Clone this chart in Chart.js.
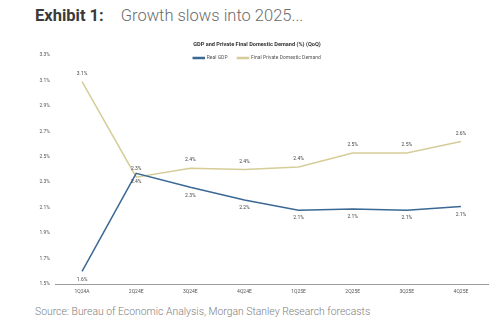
<!DOCTYPE html>
<html>
<head>
<meta charset="utf-8">
<script src="https://cdn.jsdelivr.net/npm/chart.js@4/dist/chart.umd.min.js"></script>
<style>
  html, body { margin: 0; padding: 0; background: #fff; }
  body { width: 500px; height: 329px; position: relative; overflow: hidden; font-family: Roboto, "Noto Sans", sans-serif; }
  #exhibit { position: absolute; left: 35px; top: 6px; font-size: 16.5px; white-space: nowrap; }
  #exhibit b { color: #3a3a3a; font-weight: 700; margin-right: 17px; }
  #exhibit span { color: #6b6b6b; font-weight: 300; }
  #wrap { position: absolute; left: 0; top: 34px; width: 500px; height: 266px; }
  #source { position: absolute; left: 35px; top: 305px; font-size: 10.4px; color: #808080; font-weight: 300; white-space: nowrap; }
</style>
</head>
<body>
<div id="exhibit"><b>Exhibit 1:</b><span>Growth slows into 2025...</span></div>
<div id="wrap"><canvas id="gdpChart"></canvas></div>
<div id="source">Source: Bureau of Economic Analysis, Morgan Stanley Research forecasts</div>

<script>
// quarters and QoQ % values
const quarters = ["1Q24A", "2Q24E", "3Q24E", "4Q24E", "1Q25E", "2Q25E", "3Q25E", "4Q25E"];
const realGdp = [1.60, 2.37, 2.26, 2.16, 2.08, 2.09, 2.08, 2.11];
const finalDemand = [3.09, 2.34, 2.41, 2.40, 2.42, 2.53, 2.53, 2.62];

const BLUE = "#3b6894";
const KHAKI = "#d6cc98";

// value labels: GDP below the point, final demand above
const pointLabels = {
  id: "pointLabels",
  afterDatasetsDraw(chart) {
    const ctx = chart.ctx;
    ctx.save();
    ctx.font = "5px Roboto, sans-serif";
    ctx.fillStyle = "#444";
    ctx.textAlign = "center";
    ctx.textBaseline = "middle";
    chart.data.datasets.forEach((ds, di) => {
      const meta = chart.getDatasetMeta(di);
      const dy = di === 0 ? 8 : -8;
      meta.data.forEach((pt, i) => {
        ctx.fillText(ds.data[i].toFixed(1) + "%", pt.x, pt.y + dy);
      });
    });
    ctx.restore();
  },
};

// legend only reserves a thin strip, then gets its box back for drawing
const tightLegend = {
  id: "tightLegend",
  beforeInit(chart) {
    const fit = chart.legend.fit;
    chart.legend.fit = function () {
      fit.call(this);
      this.height = 9.5;
    };
  },
  afterLayout(chart) {
    chart.legend.bottom += 20;
    chart.legend.height += 20;
  },
};

new Chart(document.getElementById("gdpChart"), {
  type: "line",
  data: {
    labels: quarters,
    datasets: [
      {
        label: "Real GDP",
        data: realGdp,
        borderColor: BLUE,
        backgroundColor: BLUE,
        borderWidth: 1.5,
        pointRadius: 0,
        tension: 0,
      },
      {
        label: "Final Private Domestic Demand",
        data: finalDemand,
        borderColor: KHAKI,
        backgroundColor: KHAKI,
        borderWidth: 1.5,
        pointRadius: 0,
        tension: 0,
      },
    ],
  },
  options: {
    responsive: true,
    maintainAspectRatio: false,
    animation: false,
    layout: { padding: { left: 26, right: 12, top: 0, bottom: 0 } },
    plugins: {
      title: {
        display: true,
        text: "GDP and Private Final Domestic Demand (%) (QoQ)",
        color: "#333",
        font: { family: "Roboto", size: 5.6, weight: "bold" },
        padding: { top: 7, bottom: -2.2 },
      },
      legend: {
        display: true,
        labels: {
          font: { family: "Roboto", size: 5 },
          color: "#555",
          boxWidth: 11,
          boxHeight: 1,
          padding: 10,
        },
      },
      tooltip: { enabled: false },
    },
    scales: {
      x: {
        offset: true,
        grid: { display: false, drawTicks: false },
        border: { display: true, color: "#9a9a9a", width: 1 },
        ticks: { font: { family: "Roboto", size: 5 }, color: "#555", padding: 5, maxRotation: 0 },
        afterFit(axis) { axis.height = 16; },
      },
      y: {
        min: 1.5,
        max: 3.3,
        grid: { display: false, drawTicks: false },
        border: { display: false },
        ticks: {
          stepSize: 0.2,
          font: { family: "Roboto", size: 5 },
          color: "#555",
          padding: 5,
          callback: (v) => v.toFixed(1) + "%",
        },
        afterFit(axis) { axis.width = 29; },
      },
    },
  },
  plugins: [pointLabels, tightLegend],
});
</script>
</body>
</html>
